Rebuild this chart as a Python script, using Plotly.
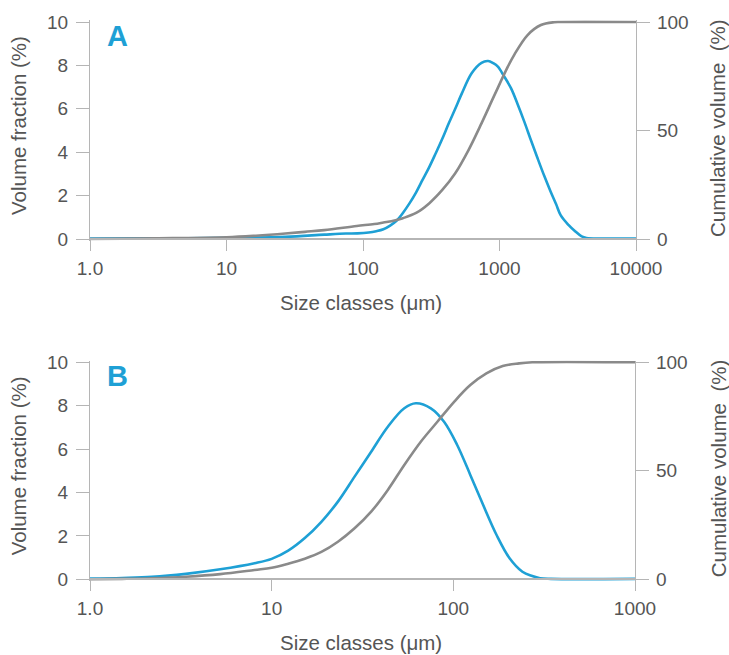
import plotly.graph_objects as go

# ---------------- data ----------------
# Panel A
a_frac_x = [1, 3, 10, 27, 52, 75, 91, 110, 125, 141, 158, 176, 196, 219, 245, 273, 305,
            341, 381, 425, 474, 530, 625, 738, 825, 900, 973, 1080, 1216, 1360, 1519,
            1700, 1901, 2130, 2371, 2600, 2804, 3200, 3548, 4000, 4337, 5480, 10000]
a_frac_y = [0.02, 0.03, 0.05, 0.1, 0.2, 0.25, 0.26, 0.3, 0.36, 0.45, 0.62, 0.84, 1.2,
            1.64, 2.15, 2.72, 3.3, 3.95, 4.62, 5.33, 6.0, 6.71, 7.64, 8.12, 8.2, 8.1,
            7.94, 7.5, 6.94, 6.2, 5.41, 4.55, 3.72, 2.9, 2.18, 1.6, 1.1, 0.65, 0.38,
            0.12, 0.05, 0.02, 0.02]
a_cum_x = [1, 3, 10, 16.4, 27, 37.5, 52, 90, 121, 141, 170, 196, 245, 305, 381, 474,
           593, 738, 920, 1151, 1285, 1606, 2010, 2509, 2804, 10000]
a_cum_y = [0, 0.3, 0.8, 1.5, 2.5, 3.3, 4.1, 6.0, 6.9, 7.6, 8.5, 9.6, 12.0, 16.4, 22.6,
           30.3, 41, 53.3, 66.4, 79.4, 85, 94, 98.6, 99.9, 100, 100]

# Panel B
b_frac_x = [1, 1.5, 2.19, 3.37, 5.21, 8.05, 10, 12.33, 15.22, 18.78, 23.16, 28.6, 35.3,
            43.6, 53.7, 62.2, 75.2, 88.9, 105, 124, 146, 173, 204, 240, 272, 300, 344, 1000]
b_frac_y = [0.03, 0.06, 0.11, 0.25, 0.46, 0.74, 0.94, 1.32, 1.9, 2.65, 3.58, 4.73, 5.88,
            7.03, 7.88, 8.11, 7.88, 7.26, 6.19, 4.81, 3.42, 2.04, 0.97, 0.35, 0.15, 0.05,
            0.02, 0.02]
b_cum_x = [1, 1.5, 2.19, 3.37, 5.21, 8.05, 10, 12.33, 15.22, 18.78, 23.16, 28.6, 35.3,
           43.6, 53.7, 66.2, 81.7, 101, 124, 152, 187, 230, 272, 1000]
b_cum_y = [0, 0.2, 0.5, 1.2, 2.4, 4.3, 5.3, 7.2, 9.5, 12.6, 17.3, 23.5, 31.2, 41.2, 52.7,
           63.4, 72.6, 81.8, 89.5, 94.9, 98.3, 99.5, 100, 100]

a_tickvals = [1, 10, 100, 1000, 10000]
a_ticktext = ["1.0", "10", "100", "1000", "10000"]
b_tickvals = [1, 10, 100, 1000]
b_ticktext = ["1.0", "10", "100", "1000"]
frac_ticks = [0, 2, 4, 6, 8, 10]
cum_ticks = [0, 50, 100]

# ---------------- styling ----------------
W, H = 729, 655
BLUE = "#1ea0d5"
GREY = "#8a8a8a"
AXIS = "#b5b5b5"
TXT = "#555555"
FONT = "Liberation Sans, Arial, sans-serif"


def fx(p):
    return p / W


def fy(p):
    return 1 - p / H


PAD = 0.08  # value padding so lines at 0 / max are not clipped


def ydom(top_px, bottom_px):
    ppu = (bottom_px - top_px) / 10.0
    return [fy(bottom_px + PAD * ppu), fy(top_px - PAD * ppu)]


fig = go.Figure()
line_w = 2.6
spl = dict(shape="spline", smoothing=1.0)
fig.add_trace(go.Scatter(x=a_cum_x, y=a_cum_y, xaxis="x", yaxis="y2", mode="lines",
                         line=dict(color=GREY, width=line_w, **spl),
                         showlegend=False, hoverinfo="skip"))
fig.add_trace(go.Scatter(x=a_frac_x, y=a_frac_y, xaxis="x", yaxis="y", mode="lines",
                         line=dict(color=BLUE, width=line_w, **spl),
                         showlegend=False, hoverinfo="skip"))
fig.add_trace(go.Scatter(x=b_cum_x, y=b_cum_y, xaxis="x2", yaxis="y4", mode="lines",
                         line=dict(color=GREY, width=line_w, **spl),
                         showlegend=False, hoverinfo="skip"))
fig.add_trace(go.Scatter(x=b_frac_x, y=b_frac_y, xaxis="x2", yaxis="y3", mode="lines",
                         line=dict(color=BLUE, width=line_w, **spl),
                         showlegend=False, hoverinfo="skip"))

tickfont = dict(family=FONT, size=19, color=TXT)

common_x = dict(type="log", showgrid=False, zeroline=False, showline=True,
                linecolor=AXIS, linewidth=1.5, ticks="outside", ticklen=11,
                tickcolor=AXIS, tickwidth=1.2, tickfont=tickfont, anchor="free",
                ticklabelstandoff=1, automargin=False)
common_yl = dict(showgrid=False, zeroline=False, showline=True, linecolor=AXIS,
                 linewidth=1.2, ticks="outside", ticklen=13, tickcolor=AXIS,
                 tickwidth=1.2, tickfont=tickfont, tickvals=frac_ticks,
                 range=[-PAD, 10 + PAD], ticklabelstandoff=4, automargin=False)
common_yr = dict(showgrid=False, zeroline=False, showline=True, linecolor=AXIS,
                 linewidth=1.2, ticks="outside", ticklen=13, tickcolor=AXIS,
                 tickwidth=1.2, tickfont=tickfont, tickvals=cum_ticks,
                 range=[-PAD * 10, 100 + PAD * 10], side="right",
                 ticklabelstandoff=3, automargin=False)

A_TOP, A_BOT = 22, 239
B_TOP, B_BOT = 362.3, 579.3

fig.update_layout(
    width=W, height=H,
    margin=dict(l=0, r=0, t=0, b=0, pad=0, autoexpand=False),
    paper_bgcolor="white", plot_bgcolor="white",
    xaxis=dict(common_x, domain=[fx(90), fx(636)], range=[0, 4],
               tickvals=a_tickvals, ticktext=a_ticktext, position=fy(A_BOT)),
    yaxis=dict(common_yl, domain=ydom(A_TOP, A_BOT), anchor="x"),
    yaxis2=dict(common_yr, domain=ydom(A_TOP, A_BOT), anchor="x", overlaying="y"),
    xaxis2=dict(common_x, domain=[fx(90), fx(635)], range=[0, 3],
                tickvals=b_tickvals, ticktext=b_ticktext, position=fy(B_BOT)),
    yaxis3=dict(common_yl, domain=ydom(B_TOP, B_BOT), anchor="x2"),
    yaxis4=dict(common_yr, domain=ydom(B_TOP, B_BOT), anchor="x2", overlaying="y3"),
)

titlefont = dict(family=FONT, size=20.5, color=TXT)
ann = []
for (top, bot, lab) in [(A_TOP, A_BOT, "A"), (B_TOP, B_BOT, "B")]:
    ann.append(dict(text="Volume fraction (%)", x=fx(18), y=fy(top + 104), xref="paper",
                    yref="paper", textangle=-90, showarrow=False, font=titlefont,
                    xanchor="center", yanchor="middle"))
    ann.append(dict(text="Cumulative volume\u00a0 (%)", x=fx(718), y=fy(top + 106),
                    xref="paper", yref="paper", textangle=-90, showarrow=False,
                    font=titlefont, xanchor="center", yanchor="middle"))
    ann.append(dict(text="Size classes (μm)", x=fx(361), y=fy(bot + 63), xref="paper",
                    yref="paper", showarrow=False, font=titlefont,
                    xanchor="center", yanchor="middle"))
    ann.append(dict(text="<b>%s</b>" % lab, x=fx(117), y=fy(top + 14), xref="paper",
                    yref="paper", showarrow=False,
                    font=dict(family=FONT, size=29, color=BLUE),
                    xanchor="center", yanchor="middle"))
fig.update_layout(annotations=ann)

fig.write_html("out.html",
               config={"displayModeBar": False},
               post_script="document.body.style.margin='0px';"
                           "document.body.style.overflow='hidden';")
